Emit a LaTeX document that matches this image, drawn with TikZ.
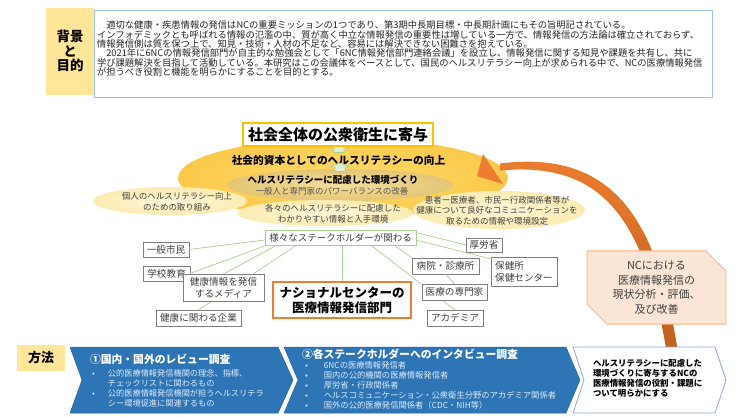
\documentclass[tikz,border=0pt]{standalone}
\usepackage{fontspec}
\setmainfont{Noto Sans CJK JP}
\usetikzlibrary{shapes.geometric,shapes.misc}

\definecolor{bgyellow}{HTML}{FFE699}
\definecolor{bigin}{HTML}{FFDB6E}
\definecolor{bigout}{HTML}{FAC94A}
\definecolor{envin}{HTML}{F4DE9C}
\definecolor{envout}{HTML}{E4C674}
\definecolor{lightin}{HTML}{FFF7DA}
\definecolor{lightout}{HTML}{FCEBB2}
\definecolor{linkgreen}{HTML}{A9D18E}
\definecolor{arrgreen}{HTML}{E2F0D9}
\definecolor{goldedge}{HTML}{FFC000}
\definecolor{ncorange}{HTML}{ED7D31}
\definecolor{ncdark}{HTML}{C0601A}
\definecolor{ncpale}{HTML}{FBE5D6}
\definecolor{ncedge}{HTML}{F4B183}
\definecolor{stepblue}{HTML}{2E75B6}
\definecolor{paleblue}{HTML}{DEEBF7}
\definecolor{edgeblue}{HTML}{8FAADC}
\definecolor{boxblue}{HTML}{9DC3E6}
\definecolor{boxgray}{HTML}{7F7F7F}
\definecolor{txtgray}{HTML}{404040}
\definecolor{txtdark}{HTML}{262626}

\newcommand{\fs}[2]{\fontsize{#1}{#2}\selectfont\lineskiplimit=-30pt}
\newcommand{\bul}[1][16pt]{\makebox[#1][l]{•}}
\newcommand{\greenup}[2]{\filldraw[fill=arrgreen, draw=linkgreen, line width=0.6pt]
  (#1,#2) -- ++(10,4) -- ++(-5,0) -- ++(0,4.5) -- ++(-10,0) -- ++(0,-4.5) -- ++(-5,0) -- cycle;}

\begin{document}
\begin{tikzpicture}[
    x=1pt, y=-1pt,
    every node/.style={inner sep=0pt, outer sep=0pt, text=txtgray},
    cloud/.style={ellipse, inner color=lightin, outer color=lightout},
    cloudtext/.style={align=center, font=\fs{8.5}{10.6}},
    holder/.style={draw=boxgray, fill=white, line width=0.8pt, font=\fs{9.6}{12}, align=left},
    link/.style={draw=linkgreen, line width=0.7pt},
    bullets/.style={anchor=north west, align=left, text=paleblue},
    heading/.style={anchor=west, text=white, font=\bfseries\fs{10.8}{13}},
    ]
    \useasboundingbox (0,0) rectangle (740,416);

    % background and aim
    \node[fill=bgyellow, minimum width=48, minimum height=87, align=center, text=black,
      font=\bfseries\fs{13.5}{14.5}] (bglabel) at (70,51) {背景\\と\\目的};
    \node[draw=boxblue, line width=0.8pt, fill=white, minimum width=618, minimum height=87,
      anchor=west] (aimbox) at (94,53.5) {};
    \node[anchor=north west, align=left, text=txtdark, font=\fs{9.3}{9.3}] (aimtext) at (97,21) {%
      　適切な健康・疾患情報の発信はNCの重要ミッションの1つであり、第3期中長期目標・中長期計画にもその旨明記されている。\\
      インフォデミックとも呼ばれる情報の氾濫の中、質が高く中立な情報発信の重要性は増している一方で、情報発信の方法論は確立されておらず、\\
      情報発信側は質を保つ上で、知見・技術・人材の不足など、容易には解決できない困難さを抱えている。\\
      　2021年に6NCの情報発信部門が自主的な勉強会として「6NC情報発信部門連絡会議」を設立し、情報発信に関する知見や課題を共有し、共に\\
      学び課題解決を目指して活動している。本研究はこの会議体をベースとして、国民のヘルスリテラシー向上が求められる中で、NCの医療情報発信\\
      が担うべき役割と機能を明らかにすることを目的とする。};

    % literacy clouds
    \node[ellipse, inner color=bigin, outer color=bigout, minimum width=330, minimum height=80] (social) at (343,178) {};
    \node[ellipse, inner color=envin, outer color=envout, minimum width=226, minimum height=32] (envir) at (340,185) {};
    \node[cloud, minimum width=154, minimum height=28] (indiv) at (170,201) {};
    \node[cloud, minimum width=176, minimum height=26] (access) at (325,213) {};
    \node[cloud, minimum width=172, minimum height=38] (comm) at (499,210) {};
    \greenup{339}{144}
    \node[draw=goldedge, line width=1.2pt, fill=white, minimum width=190, minimum height=23,
      text=black, font=\bfseries\fs{15}{16}] (goal) at (338,134.5) {社会全体の公衆衛生に寄与};
    \node[text=black, font=\bfseries\fs{10.7}{12}] (capital) at (338.5,160) {社会的資本としてのヘルスリテラシーの向上};
    \greenup{340}{163}
    \node[align=center, text=black, font=\bfseries\fs{9.5}{11}] (envtitle) at (333,180) {ヘルスリテラシーに配慮した環境づくり};
    \node[font=\fs{8.5}{10}, text=txtgray!90] (envsub) at (332,191) {一般人と専門家のパワーバランスの改善};
    \node[cloudtext] (indivtext) at (177,202) {個人のヘルスリテラシー向上\\のための取り組み};
    \node[cloudtext] (accesstext) at (333,214) {各々のヘルスリテラシーに配慮した\\わかりやすい情報と入手環境};
    \node[cloudtext] (commtext) at (497,210.5) {患者ー医療者、市民ー行政関係者等が\\健康について良好なコミュニケーションを\\取るための情報や環境設定};

    % stakeholders
    \node[draw=linkgreen, line width=0.8pt, fill=white, minimum width=151, minimum height=15,
      font=\fs{9.5}{12}] (stake) at (340.5,237.5) {様々なステークホルダーが関わる};
    \node[holder, minimum width=46, minimum height=15] (citizen) at (166,249.5) {一般市民};
    \node[holder, minimum width=47, minimum height=15] (school) at (166.5,273.5) {学校教育};
    \node[holder, minimum width=85, minimum height=16] (company) at (198.5,318) {健康に関わる企業};
    \node[holder, minimum width=36, minimum height=14] (mhlw) at (484,245) {厚労省};
    \node[holder, minimum width=67, minimum height=16] (hosp) at (445.5,266) {病院・診療所};
    \node[holder, minimum width=56, minimum height=16] (academia) at (455,318) {アカデミア};
    \draw[link] ([yshift=-2.5pt]stake.west) -- (citizen.east);
    \draw[link] ([xshift=2pt]stake.south west) -- (school.east);
    \draw[link] ([xshift=12pt]stake.south west) -- (223.5,274);
    \draw[link] ([xshift=32pt]stake.south west) -- (company.north);
    \draw[link] ([xshift=30pt]stake.south) -- (academia.north);
    \draw[link] ([xshift=53pt]stake.south) -- (hosp.north west);
    \draw[link] ([yshift=5pt]stake.east) -- (mhlw.west);
    \draw[link] ([yshift=-2.5pt]stake.east) -- (491,259);
    \draw[link] (342,245) -- (342,282);
    \draw[link] (hosp.south) -- (454.5,284);
    \node[holder, align=center, minimum width=81, minimum height=27] (media) at (223.5,287.5) {健康情報を発信\\するメディア};
    \node[holder, minimum width=66, minimum height=29] (health) at (524,271.5) {保健所\\保健センター};
    \node[holder, minimum width=65, minimum height=16] (medpro) at (454.5,292) {医療の専門家};
    \node[draw=ncorange, line width=1.3pt, fill=white, minimum width=138, minimum height=36, align=center,
      text=black, font=\bfseries\fs{12.5}{15}] (ncdept) at (342,300) {ナショナルセンターの\\医療情報発信部門};

    % feedback arrow
    \shade[top color=ncorange, bottom color=ncdark]
      (677.5,349) .. controls (656,213) and (609,150) .. (500,163.5)
      -- (500,170.5) .. controls (601,161) and (644,217) .. (666.5,351) -- cycle;
    \fill[ncorange] (477,176) -- (483,154) -- (503,184) -- cycle;
    \node[chamfered rectangle, chamfered rectangle corners={north east,south west},
      chamfered rectangle xsep=10pt, chamfered rectangle ysep=10pt,
      fill=ncpale, draw=ncedge, line width=0.8pt, minimum width=139, minimum height=61,
      align=center, font=\fs{11}{14.5}] (review) at (656.5,287.5) {NCにおける\\医療情報発信の\\現状分析・評価、\\及び改善};

    % method
    \node[fill=bgyellow, minimum width=48, minimum height=26, text=black,
      font=\bfseries\fs{13}{14}] (method) at (41,358) {方法};
    \filldraw[fill=stepblue, draw=stepblue!85!black, line width=0.5pt]
      (70,347) -- (278,347) -- (293,380) -- (278,413) -- (70,413) -- (82,380) -- cycle;
    \filldraw[fill=stepblue, draw=stepblue!85!black, line width=0.5pt]
      (284,347) -- (566,347) -- (580,380) -- (566,413) -- (284,413) -- (298,380) -- cycle;
    \filldraw[fill=white, draw=edgeblue, line width=0.8pt]
      (573,347) -- (715,347) -- (726,380) -- (715,413) -- (573,413) -- (584,380) -- cycle;
    \node[heading] (revtitle) at (90,359) {①国内・国外のレビュー調査};
    \node[bullets, font=\fs{8.2}{9.7}] (revlist) at (92,370) {%
      \bul 公的医療情報発信機関の理念、指標、\\
      \hspace*{16pt}チェックリストに関わるもの\\
      \bul 公的医療情報発信機関が担うヘルスリテラ\\
      \hspace*{16pt}シー環境促進に関連するもの};
    \node[heading] (intvtitle) at (302,354) {②各ステークホルダーへのインタビュー調査};
    \node[bullets, font=\fs{8.3}{10}] (intvlist) at (305,362) {%
      \bul[17pt] 6NCの医療情報発信者\\
      \bul[17pt] 国内の公的機関の医療情報発信者\\
      \bul[17pt] 厚労省・行政関係者\\
      \bul[17pt] ヘルスコミュニケーション・公衆衛生分野のアカデミア関係者\\
      \bul[17pt] 国外の公的医療発信関係者（CDC・NIH等）};
    \node[anchor=north west, align=left, text=black, font=\bfseries\fs{8.4}{10}] (outcome) at (593,359) {%
      ヘルスリテラシーに配慮した\\
      環境づくりに寄与するNCの\\
      医療情報発信の役割・課題に\\
      ついて明らかにする};
\end{tikzpicture}
\end{document}
